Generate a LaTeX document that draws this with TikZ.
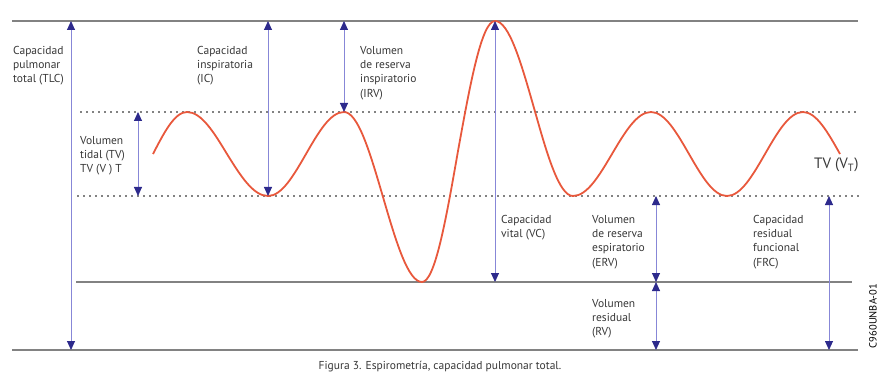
\documentclass[tikz,border=0pt]{standalone}
\usepackage{fontspec}
\setmainfont{PT Sans}
\usetikzlibrary{arrows.meta}
\definecolor{breath}{RGB}{232,88,60}
\definecolor{arrline}{RGB}{135,135,215}
\definecolor{arrhead}{RGB}{45,42,140}
\definecolor{rule}{RGB}{130,130,130}
\definecolor{txt}{RGB}{55,55,55}
\tikzset{
x=1pt, y=-1pt, % one unit per pixel, y going down
level/.style={draw=rule, line width=1.6pt}, % solid volume levels
dotlevel/.style={draw=rule, line width=1.5pt, dash pattern=on 1.5pt off 4.5pt}, % dotted levels
volarrow/.style={draw=arrline, line width=0.9pt,
  {Triangle[width=8pt,length=9pt,color=arrhead]}-{Triangle[width=8pt,length=9pt,color=arrhead]}}, % measures
lbl/.style={anchor=north west, inner sep=0pt, align=left, text=txt,
  font=\fontsize{11.5}{14.3}\selectfont}, % labels
}

\begin{document}
\begin{tikzpicture}
\useasboundingbox (0,0) rectangle (892,385);
% levels
\coordinate (tl) at (12,21); \coordinate (tr) at (858,21);
\coordinate (hil) at (80,112); \coordinate (hir) at (860,112);
\coordinate (lol) at (77,196); \coordinate (lor) at (860,196);
\coordinate (rvl) at (76,282); \coordinate (rvr) at (852,282);
\coordinate (bl) at (12,350); \coordinate (br) at (858,350);
\draw[level] (tl) -- (tr);
\draw[level] (rvl) -- (rvr);
\draw[level] (bl) -- (br);
\draw[dotlevel] (hil) -- (hir);
\draw[dotlevel] (lol) -- (lor);
% breathing curve
\draw[breath, line width=1.8pt]
(153,154) sin (187,112) cos (227,154) sin (268,196) cos (306,154) sin (344,112)
cos (383,197) sin (422,282) cos (458,151) sin (495,21) cos (534,108) sin (573,196)
cos (612,154) sin (651,112) cos (689,154) sin (727,196) cos (765,154) sin (803,112)
cos (840,154);
% arrows
\foreach \n/\x/\ya/\yb in {tlc/71/21/350, ic/268/21/196, tv/138/112/196, irv/344/21/112,
  vc/495/21/282, erv/656/196/282, rv/656/282/350, frc/829/196/350}{
  \coordinate (\n-a) at (\x,\ya);
  \coordinate (\n-b) at (\x,\yb);
  \draw[volarrow] (\n-a) -- (\n-b);
}
% labels
\node[lbl] (tlc) at (13,46) {Capacidad\\pulmonar\\total (TLC)};
\node[lbl] (ic) at (197,46) {Capacidad\\inspiratoria\\(IC)};
\node[lbl] (irv) at (360,46) {Volumen\\de reserva\\inspiratorio\\(IRV)};
\node[lbl] (tv) at (80,136) {Volumen\\tidal (TV)\\TV (V ) T};
\node[lbl] (vc) at (501,215) {Capacidad\\vital (VC)};
\node[lbl] (erv) at (592,215) {Volumen\\de reserva\\espiratorio\\(ERV)};
\node[lbl] (rv) at (592,299) {Volumen\\residual\\(RV)};
\node[lbl] (frc) at (753,215) {Capacidad\\residual\\funcional\\(FRC)};
\node[anchor=west, inner sep=0pt, text=txt, font=\fontsize{15}{17}\selectfont] (vt) at (814,165) {TV (V\textsubscript{T})};
\node[text=txt, font=\fontsize{11.5}{13}\selectfont] (caption) at (440,367) {Figura 3. Espirometría, capacidad pulmonar total.};
\node[rotate=90, text=black, font=\fontsize{10.5}{12}\selectfont] (code) at (873,316) {C960UNBA-01};
\end{tikzpicture}
\end{document}
